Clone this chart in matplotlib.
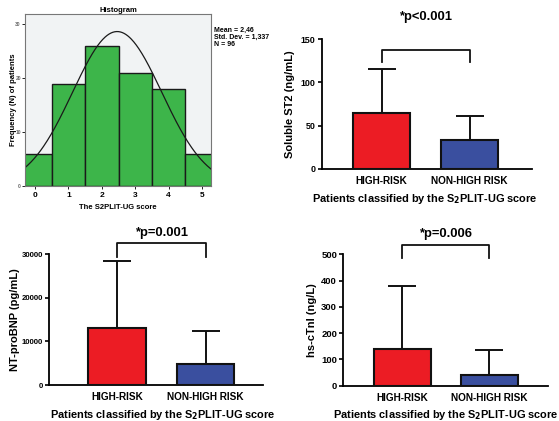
import numpy as np
import matplotlib
matplotlib.use("Agg")
import matplotlib.pyplot as plt

plt.rcParams['font.family'] = ['Liberation Sans', 'DejaVu Sans']
plt.rcParams['font.weight'] = 'bold'

# ---- data ----
scores = [0, 1, 2, 3, 4, 5]
score_counts = [6, 19, 26, 21, 18, 6]
hist_mean = 2.46
hist_sd = 1.337
hist_n = 96

groups = ["HIGH-RISK", "NON-HIGH RISK"]
st2_mean = [64.5, 33.5]
st2_err = [51, 27.5]
ntprobnp_mean = [13000, 4900]
ntprobnp_err = [15500, 7600]
ctni_mean = [140, 40]
ctni_err = [240, 95]

bar_colors = ["#EC1C24", "#3A4F9F"]
W, H = 559, 421

fig = plt.figure(figsize=(W / 100, H / 100), dpi=100)


def rect(l, t, r, b):
    return [l / W, 1 - b / H, (r - l) / W, (b - t) / H]


# ---- histogram ----
ax = fig.add_axes(rect(25, 14, 211, 186))
ax.set_facecolor("#F1F3F4")
ax.bar(scores, score_counts, width=1.0, color="#3DB54A", edgecolor="#1a1a1a", linewidth=1.0)
xs = np.linspace(-0.3, 5.27, 300)
pdf = hist_n / (hist_sd * np.sqrt(2 * np.pi)) * np.exp(-0.5 * ((xs - hist_mean) / hist_sd) ** 2)
ax.plot(xs, pdf, color="#1a1a1a", lw=0.9)
ax.set_xlim(-0.3, 5.27)
ax.set_ylim(0, 31.9)
ax.set_xticks(scores)
ax.set_yticks([0, 10, 20, 30])
ax.tick_params(axis='x', labelsize=6, length=2, width=0.6, pad=2.5)
ax.tick_params(axis='y', labelsize=3.5, length=2, width=0.6, pad=1, labelcolor="#666666")
for s in ax.spines.values():
    s.set_color("#777777")
    s.set_linewidth(0.8)
ax.set_title("Histogram", fontsize=5.5, fontweight='bold', pad=1.5)
ax.set_xlabel("The S2PLIT-UG score", fontsize=5.5, fontweight='bold', labelpad=3.5)
ax.set_ylabel("Frequency (N) of patients", fontsize=5.5, fontweight='bold')
ax.yaxis.set_label_coords(-0.045, 0.5)
fig.text(214 / W, 1 - 27 / H, "Mean = 2,46\nStd. Dev. = 1,337\nN = 96", fontsize=5,
         fontweight='bold', va='top', ha='left', linespacing=0.95)


def bar_panel(box, means, errs, ylim, yticks, ylabel, ptext, bracket_top, bracket_leg,
              ptext_y, xlim, ylabel_x, ytick_size, bar_w=0.655):
    ax = fig.add_axes(rect(*box))
    x = np.arange(len(groups))
    ax.bar(x, means, width=bar_w, color=bar_colors, edgecolor="#111111", linewidth=1.5, zorder=3)
    ax.errorbar(x, means, yerr=[[0, 0], errs], fmt='none', ecolor="#111111",
                elinewidth=1.4, capsize=10.4, capthick=1.4, zorder=2)
    ax.set_xlim(*xlim)
    ax.set_ylim(*ylim)
    ax.set_yticks(yticks)
    ax.set_xticks(x)
    ax.set_xticklabels(groups)
    ax.tick_params(axis='y', labelsize=ytick_size, width=1.2, length=3, pad=1.5)
    ax.tick_params(axis='x', labelsize=7.2, length=0, pad=5)
    for lab in ax.get_xticklabels() + ax.get_yticklabels():
        lab.set_fontweight('bold')
    ax.spines['top'].set_visible(False)
    ax.spines['right'].set_visible(False)
    ax.spines['left'].set_linewidth(1.3)
    ax.spines['bottom'].set_linewidth(1.3)
    ax.set_ylabel(ylabel, fontsize=8, fontweight='bold')
    ax.yaxis.set_label_coords(ylabel_x, 0.5)
    ax.set_xlabel("Patients classified by the S$_\\mathbf{2}$PLIT-UG score", fontsize=7.9,
                  fontweight='bold')
    ax.plot([0, 0, 1, 1], [bracket_leg, bracket_top, bracket_top, bracket_leg],
            color="#111111", lw=1.3, clip_on=False, zorder=4)
    ax.text(0.5, ptext_y, ptext, ha='center', va='center', fontsize=9.4, fontweight='bold',
            clip_on=False)
    return ax


def place_xlabel(ax, xfrac, ypix):
    # y position in pixels from figure top converted to axes fraction
    bb = ax.get_position()
    yfig = 1 - ypix / H
    yax = (yfig - bb.y0) / bb.height
    ax.xaxis.set_label_coords(xfrac, yax)
    ax.xaxis.label.set_va('center')


# Soluble ST2
a1 = bar_panel((321.7, 39, 532, 169), st2_mean, st2_err, (0, 150), [0, 50, 100, 150],
               "Soluble ST2 (ng/mL)", "*p<0.001", 137, 123, 175, (-0.68, 1.71), -0.127, 6.4)
place_xlabel(a1, 0.49, 199.5)

# NT-proBNP
a2 = bar_panel((49, 254.3, 263, 385), ntprobnp_mean, ntprobnp_err, (0, 30000),
               [0, 10000, 20000, 30000], "NT-proBNP (pg/mL)", "*p=0.001", 32500, 29300, 34900,
               (-0.77, 1.65), -0.135, 5.6)
place_xlabel(a2, 0.53, 415.5)

# hs-cTnI
a3 = bar_panel((343.3, 254.3, 548, 385.7), ctni_mean, ctni_err, (0, 500),
               [0, 100, 200, 300, 400, 500], "hs-cTnI (ng/L)", "*p=0.006", 537, 487, 576,
               (-0.68, 1.675), -0.128, 6.8)
place_xlabel(a3, 0.503, 415.5)

fig.savefig("out.png", dpi=100)
